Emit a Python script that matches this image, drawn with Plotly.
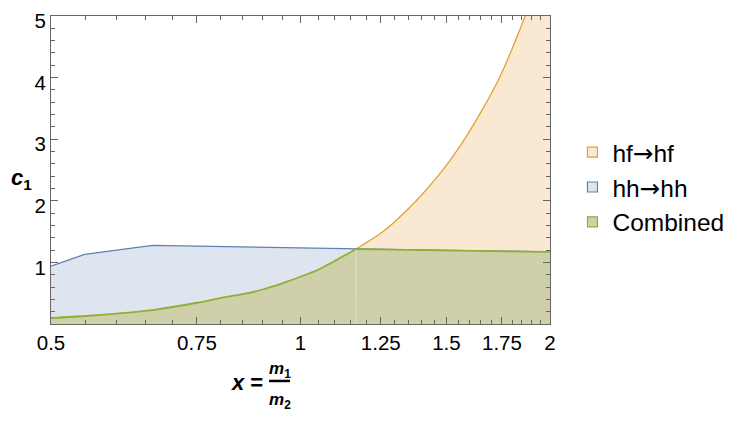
import plotly.graph_objects as go

# ---- data ----
hf_x = [0.5, 0.55, 0.6, 0.663, 0.75, 0.8, 0.87, 0.9, 0.95, 1.0, 1.05, 1.095, 1.166, 1.258, 1.381, 1.473, 1.56, 1.646, 1.74, 1.867, 2.0]
hf_y = [0.097, 0.13, 0.17, 0.227, 0.345, 0.42, 0.51, 0.56, 0.66, 0.767, 0.88, 1.01, 1.215, 1.50, 2.01, 2.44, 2.9, 3.41, 4.01, 5.0, 6.1]

hh_x = [0.5, 0.549, 0.663, 1.085, 1.166, 2.0]
hh_y = [0.94, 1.13, 1.275, 1.227, 1.215, 1.17]

comb_x = [0.5, 0.55, 0.6, 0.663, 0.75, 0.8, 0.87, 0.9, 0.95, 1.0, 1.05, 1.095, 1.166, 1.5, 2.0]
comb_y = [0.097, 0.13, 0.17, 0.227, 0.345, 0.42, 0.51, 0.56, 0.66, 0.767, 0.88, 1.01, 1.215, 1.19, 1.17]
i_cross = 12  # index of the crossing point in comb_x

x_ticks = [0.5, 0.75, 1, 1.25, 1.5, 1.75, 2]
x_ticklabels = ["0.5", "0.75", "1", "1.25", "1.5", "1.75", "2"]
x_minor = [round(0.5 + 0.05 * i, 2) for i in range(31)]
y_ticks = [1, 2, 3, 4, 5]
y_minor = [round(0.2 * i, 1) for i in range(26)]

ARROW = '<span style="font-family:DejaVu Sans">→</span>'
series_names = ["hf" + ARROW + "hf", "hh" + ARROW + "hh", "Combined"]

# ---- styles ----
C_OR, C_BL, C_GR = "#E5A02E", "#5E81B5", "#8FB032"
F_OR, F_BL, F_GR = "#F9E9D3", "#DFE5EF", "#CFCFAA"
FONT = "Liberation Sans, Arial, sans-serif"
AX = "#666666"

fig = go.Figure()

fig.add_trace(go.Scatter(x=hf_x, y=hf_y, mode="lines", fill="tozeroy", fillcolor=F_OR,
                         line=dict(color=C_OR, width=1.3, shape="spline", smoothing=0.8),
                         showlegend=False, hoverinfo="skip"))
fig.add_trace(go.Scatter(x=hh_x, y=hh_y, mode="lines", fill="tozeroy", fillcolor=F_BL,
                         line=dict(color=C_BL, width=1.3), showlegend=False, hoverinfo="skip"))
fig.add_trace(go.Scatter(x=comb_x[:i_cross + 1], y=comb_y[:i_cross + 1], mode="lines", fill="tozeroy",
                         fillcolor=F_GR, line=dict(color=C_GR, width=1.8, shape="spline", smoothing=0.8),
                         showlegend=False, hoverinfo="skip"))
fig.add_trace(go.Scatter(x=comb_x[i_cross:], y=comb_y[i_cross:], mode="lines", fill="tozeroy",
                         fillcolor=F_GR, line=dict(color=C_GR, width=1.8),
                         showlegend=False, hoverinfo="skip"))
# faint seam below the crossing point
fig.add_trace(go.Scatter(x=[comb_x[i_cross], comb_x[i_cross]], y=[0, comb_y[i_cross] - 0.02], mode="lines",
                         line=dict(color="#E3DFCB", width=1), showlegend=False, hoverinfo="skip"))

for name, fc, lc, g in zip(series_names, [F_OR, F_BL, F_GR], [C_OR, C_BL, C_GR], ["a", "b", "c"]):
    fig.add_trace(go.Scatter(x=[None], y=[None], mode="markers", name=name, legendgroup=g,
                             marker=dict(symbol="square", size=10, color=fc, line=dict(color=lc, width=1.2))))

axis_common = dict(showline=True, linecolor=AX, linewidth=1, mirror="allticks",
                   ticks="inside", ticklen=7, tickcolor=AX, tickwidth=1,
                   showgrid=False, zeroline=False, automargin=False, layer="above traces",
                   ticklabeloverflow="allow",
                   tickfont=dict(family=FONT, size=20.5, color="black"))

fig.update_xaxes(type="log", range=[-0.30103, 0.30103], tickmode="array",
                 tickvals=x_ticks, ticktext=x_ticklabels, ticklabelstandoff=0,
                 minor=dict(tickmode="array", tickvals=x_minor, ticks="inside", ticklen=4,
                            tickcolor=AX, tickwidth=1, showgrid=False),
                 **axis_common)
fig.update_yaxes(range=[0, 5], tickmode="array", tickvals=y_ticks, ticklabelstandoff=0,
                 ticklabelshift=5,
                 minor=dict(tickmode="array", tickvals=y_minor, ticks="inside", ticklen=4,
                            tickcolor=AX, tickwidth=1, showgrid=False),
                 **axis_common)

ann_font = dict(family=FONT, size=22, color="black")
fig.update_layout(
    width=734, height=418,
    margin=dict(l=43, r=192, t=7.5, b=102, autoexpand=False),
    paper_bgcolor="white", plot_bgcolor="white",
    legend=dict(x=1.045, y=0.444, xanchor="left", yanchor="middle",
                font=dict(family=FONT, size=24.5, color="black"),
                traceorder="grouped", tracegroupgap=0, bgcolor="rgba(0,0,0,0)"),
    annotations=[
        dict(text="<b><i>c</i><sub>1</sub></b>", xref="paper", yref="paper",
             x=-0.085, y=0.47, showarrow=False, font=ann_font, xanchor="left", yanchor="middle"),
        dict(text="<b><i>x</i> =</b>", xref="paper", yref="paper",
             x=0.393, y=-0.191, showarrow=False, font=ann_font, xanchor="center", yanchor="middle"),
        dict(text="<b><i>m</i><sub>1</sub></b>", xref="paper", yref="paper",
             x=0.459, y=-0.15, showarrow=False, font=dict(family=FONT, size=17, color="black"),
             xanchor="center", yanchor="middle"),
        dict(text="<b><i>m</i><sub>2</sub></b>", xref="paper", yref="paper",
             x=0.459, y=-0.25, showarrow=False, font=dict(family=FONT, size=17, color="black"),
             xanchor="center", yanchor="middle"),
    ],
    shapes=[dict(type="line", xref="paper", yref="paper", x0=0.437, x1=0.479, y0=-0.185, y1=-0.185,
                 line=dict(color="black", width=2.5))],
)

fig.write_html("out.html")
